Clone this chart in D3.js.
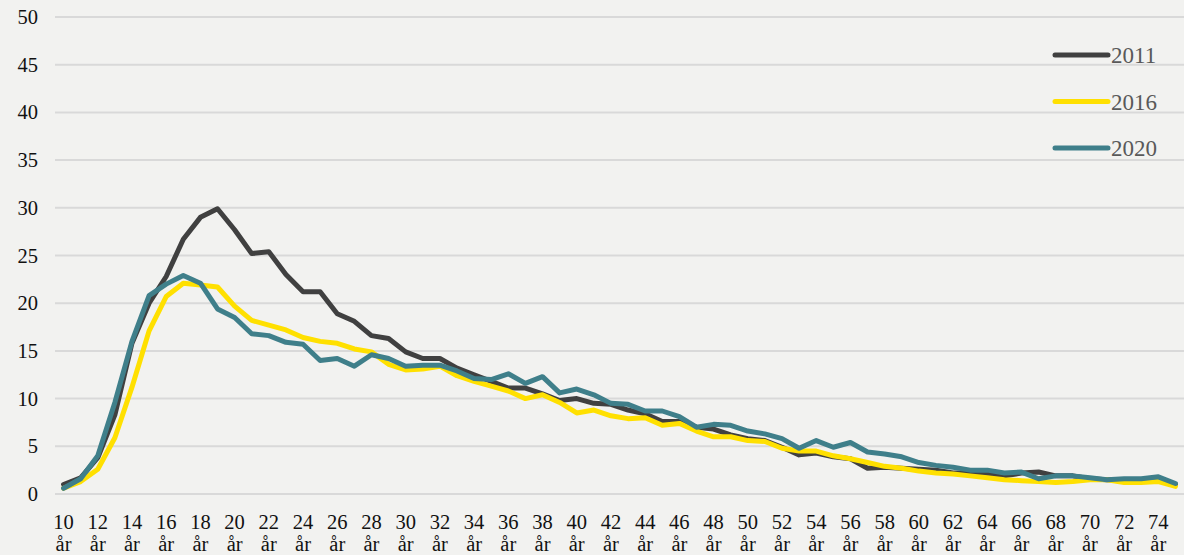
<!DOCTYPE html>
<html>
<head>
<meta charset="utf-8">
<script src="https://cdn.jsdelivr.net/npm/d3@7"></script>
<style>
  body { margin: 0; background: #f2f2f0; }
  svg, svg text { font-family: "Liberation Serif", "Times New Roman", serif; }
  svg { display: block; }
</style>
</head>
<body>
<script>
// Ages 10..75
var ages = d3.range(10, 76);

var s2011 = [1.0, 1.7, 3.8, 8.3, 15.8, 20.0, 22.8, 26.7, 29.0, 29.9,
  27.7, 25.2, 25.4, 23.0, 21.2, 21.2, 18.9, 18.1, 16.6, 16.3,
  14.9, 14.2, 14.2, 13.2, 12.5, 11.8, 11.1, 11.1, 10.5, 9.8,
  10.0, 9.5, 9.4, 8.8, 8.4, 7.6, 7.6, 7.0, 6.8, 6.2,
  5.8, 5.6, 4.9, 4.1, 4.3, 3.9, 3.7, 2.7, 2.8, 2.7,
  2.6, 2.5, 2.2, 2.2, 2.1, 1.9, 2.2, 2.3, 1.9, 1.9,
  1.6, 1.5, 1.5, 1.4, 1.6, 1.0];

var s2016 = [0.6, 1.3, 2.6, 5.9, 11.2, 17.1, 20.7, 22.1, 21.9, 21.7,
  19.7, 18.2, 17.7, 17.2, 16.4, 16.0, 15.8, 15.2, 14.9, 13.6,
  13.0, 13.1, 13.4, 12.4, 11.8, 11.3, 10.8, 10.0, 10.4, 9.6,
  8.5, 8.8, 8.2, 7.9, 8.0, 7.2, 7.4, 6.6, 6.0, 6.0,
  5.6, 5.5, 4.8, 4.5, 4.5, 4.0, 3.7, 3.3, 2.9, 2.7,
  2.4, 2.2, 2.1, 1.9, 1.7, 1.5, 1.4, 1.3, 1.2, 1.3,
  1.5, 1.5, 1.2, 1.2, 1.3, 0.8];

var s2020 = [0.6, 1.6, 4.0, 9.6, 16.0, 20.8, 22.0, 22.9, 22.1, 19.4,
  18.5, 16.8, 16.6, 15.9, 15.7, 14.0, 14.2, 13.4, 14.6, 14.2,
  13.4, 13.5, 13.5, 12.9, 12.1, 12.0, 12.6, 11.6, 12.3, 10.6,
  11.0, 10.4, 9.5, 9.4, 8.7, 8.7, 8.1, 7.0, 7.3, 7.2,
  6.6, 6.3, 5.8, 4.8, 5.6, 4.9, 5.4, 4.4, 4.2, 3.9,
  3.3, 3.0, 2.8, 2.5, 2.5, 2.2, 2.3, 1.6, 1.9, 1.9,
  1.7, 1.5, 1.6, 1.6, 1.8, 1.1];

var yTicks = [0, 5, 10, 15, 20, 25, 30, 35, 40, 45, 50];

var series = [
  { name: "2011", values: s2011, color: "#404040" },
  { name: "2016", values: s2016, color: "#ffe000" },
  { name: "2020", values: s2020, color: "#3f7f8a" }
];

var svgWidth = 1184;
var svgHeight = 555;
var margin = { top: 17, right: 0, bottom: 61, left: 55 };
var width = svgWidth - margin.left - margin.right;
var height = svgHeight - margin.top - margin.bottom;

var svg = d3.select("body")
  .append("svg")
  .attr("width", svgWidth)
  .attr("height", svgHeight);

svg.append("rect")
  .attr("width", svgWidth)
  .attr("height", svgHeight)
  .attr("fill", "#f2f2f0");

var chartGroup = svg.append("g")
  .attr("transform", `translate(${margin.left}, ${margin.top})`);

var x = d3.scaleBand()
  .domain(ages)
  .range([0, width]);

var y = d3.scaleLinear()
  .domain([0, 50])
  .range([height, 0]);

// gridlines
chartGroup.selectAll(".grid")
  .data(yTicks)
  .enter().append("line")
  .attr("x1", 0)
  .attr("x2", width)
  .attr("y1", d => y(d))
  .attr("y2", d => y(d))
  .attr("stroke", "#d9d9d9")
  .attr("stroke-width", 2);

// y axis
var leftAxis = d3.axisLeft(y).tickValues(yTicks).tickSize(0).tickPadding(17);
var yAxis = chartGroup.append("g").call(leftAxis)
  .attr("font-family", null)
  .attr("font-size", null);
yAxis.select(".domain").remove();
yAxis.selectAll("text")
  .style("font-size", "20.5px")
  .attr("fill", "#111");

// x axis labels, every second age
var xLabels = chartGroup.append("g")
  .attr("transform", `translate(0, ${height})`);

var labelAges = ages.filter(a => a % 2 === 0);
var lab = xLabels.selectAll("g")
  .data(labelAges)
  .enter().append("g")
  .attr("transform", d => `translate(${x(d) + x.bandwidth() / 2}, 0)`);

lab.append("text")
  .attr("y", 35)
  .attr("text-anchor", "middle")
  .style("font-size", "20.5px")
  .attr("fill", "#111")
  .text(d => d);

lab.append("text")
  .attr("y", 57)
  .attr("text-anchor", "middle")
  .style("font-size", "20.5px")
  .attr("fill", "#111")
  .text("år");

// lines
var line = d3.line()
  .x((d, i) => x(ages[i]) + x.bandwidth() / 2)
  .y(d => y(d));

chartGroup.selectAll(".series")
  .data(series)
  .enter().append("path")
  .attr("d", d => line(d.values))
  .attr("fill", "none")
  .attr("stroke", d => d.color)
  .attr("stroke-width", 5)
  .attr("stroke-linejoin", "round")
  .attr("stroke-linecap", "round");

// legend
var legend = svg.append("g")
  .attr("transform", "translate(1055, 55)");

var item = legend.selectAll("g")
  .data(series)
  .enter().append("g")
  .attr("transform", (d, i) => `translate(0, ${i * 46.5})`);

item.append("line")
  .attr("x1", 0)
  .attr("x2", 53)
  .attr("stroke", d => d.color)
  .attr("stroke-width", 5)
  .attr("stroke-linecap", "round");

item.append("text")
  .attr("x", 56)
  .attr("y", 8)
  .style("font-size", "23px")
  .attr("fill", "#595959")
  .text(d => d.name);
</script>
</body>
</html>
